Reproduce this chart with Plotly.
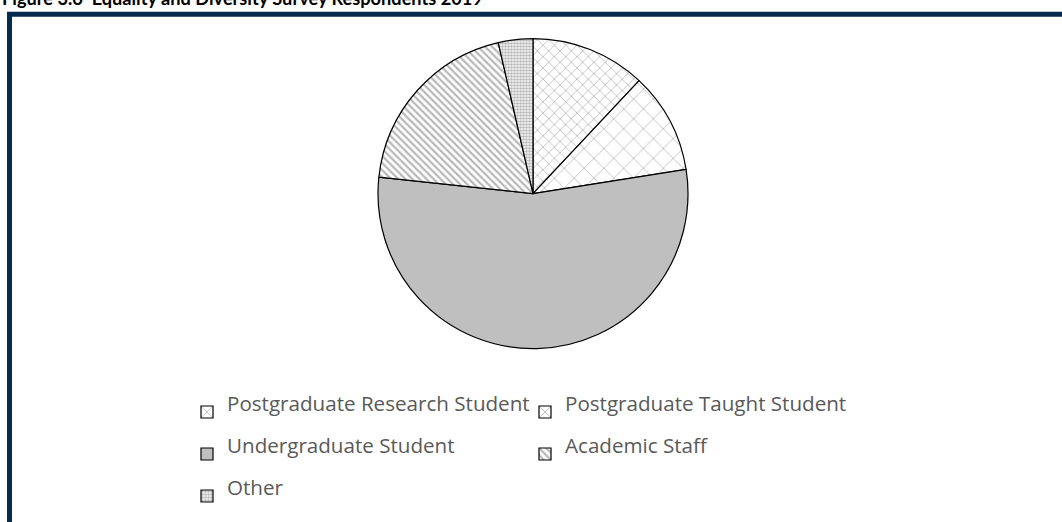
import plotly.graph_objects as go

# Survey respondents by group (share of respondents, %)
categories = [
    "Postgraduate Research Student",
    "Postgraduate Taught Student",
    "Undergraduate Student",
    "Academic Staff",
    "Other",
]
shares = [12.0, 10.5, 54.2, 19.7, 3.6]

fill_colors = ["#FFFFFF", "#FFFFFF", "#BFBFBF", "#FFFFFF", "#FFFFFF"]
pattern_shapes = ["x", "x", "", "\\", "."]
pattern_sizes = [8, 14, 8, 5, 3]
pattern_solidity = [0.2, 0.12, 0.2, 0.45, 0.6]
pattern_fg = ["#BDBDBD", "#BDBDBD", "#BFBFBF", "#B8B8B8", "#B8B8B8"]

title_text = "Figure 3.6  Equality and Diversity Survey Respondents 2019"

W, H = 1062, 522
ML, MR = 180, 180
PW = W - ML - MR


def px_x(x):
    return (x - ML) / PW


def px_y(y):
    return 1 - y / H


# legend rows are spaced by the legend font size; the visible label text is set smaller
legend_labels = [
    f"<sup><span style='font-size:20.6px'>{c}</span></sup>" for c in categories
]

fig = go.Figure(
    go.Pie(
        labels=legend_labels,
        values=shares,
        sort=False,
        direction="clockwise",
        rotation=0,
        textinfo="none",
        hoverinfo="skip",
        marker=dict(
            colors=fill_colors,
            line=dict(color="#000000", width=1.2),
            pattern=dict(
                shape=pattern_shapes,
                size=pattern_sizes,
                solidity=pattern_solidity,
                fgcolor=pattern_fg,
                bgcolor=fill_colors,
            ),
        ),
        domain=dict(x=[px_x(376), px_x(690)], y=[px_y(352), px_y(39)]),
    )
)

# outer frame
fig.add_shape(
    type="rect",
    xref="paper",
    yref="paper",
    x0=px_x(9.5),
    x1=px_x(1080),
    y0=px_y(540),
    y1=px_y(14.5),
    line=dict(color="#062A4D", width=5),
    fillcolor="rgba(0,0,0,0)",
    layer="above",
)

fig.add_annotation(
    text=f"<b>{title_text}</b>",
    xref="paper",
    yref="paper",
    x=px_x(0),
    y=px_y(11),
    xanchor="left",
    yanchor="bottom",
    showarrow=False,
    font=dict(family="Lato", size=18.2, color="#000000"),
)

fig.update_layout(
    width=W,
    height=H,
    margin=dict(l=ML, r=MR, t=0, b=0),
    paper_bgcolor="#FFFFFF",
    plot_bgcolor="#FFFFFF",
    showlegend=True,
    legend=dict(
        orientation="h",
        x=px_x(187),
        y=px_y(390),
        xanchor="left",
        yanchor="top",
        entrywidth=293,
        font=dict(family="Open Sans", size=30, color="#595959"),
        bgcolor="rgba(0,0,0,0)",
        traceorder="normal",
    ),
)

fig.write_html("out.html")
